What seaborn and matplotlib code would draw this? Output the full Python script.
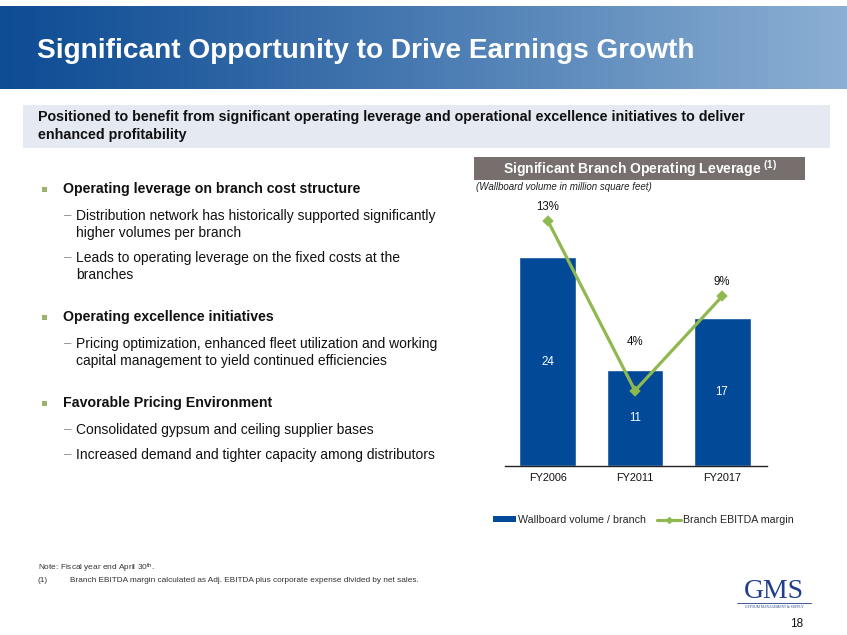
import numpy as np
import matplotlib
matplotlib.use("Agg")
import matplotlib.pyplot as plt
from matplotlib.patches import Rectangle, Patch
from matplotlib.lines import Line2D
import seaborn as sns

# ---- data ----
categories = ["FY2006", "FY2011", "FY2017"]
volume_per_branch = [24, 11, 17]
ebitda_margin = [13, 4, 9]
margin_labels = ["13%", "4%", "9%"]

sns.set_theme(style="white")
plt.rcParams["font.family"] = ["Liberation Sans", "DejaVu Sans"]
plt.rcParams["mathtext.default"] = "regular"

W, H = 847, 635
fig = plt.figure(figsize=(W / 100, H / 100), dpi=100)
fig.patch.set_facecolor("white")


def fx(x):
    return x / W


def fy(y):
    return 1 - y / H


BLUE = "#024A97"
GREEN = "#8FB94F"

# ---- header banner with gradient ----
ban = fig.add_axes([0, fy(89), 1, (89 - 6) / H])
ban.set_axis_off()
grad = np.linspace(0, 1, 256)
c0 = np.array([14, 76, 148]) / 255
c1 = np.array([140, 176, 212]) / 255
img = np.array([c0 + (c1 - c0) * t ** 1.1 for t in grad])[None, :, :]
ban.imshow(img, aspect="auto", extent=[0, 1, 0, 1])
ban.set_xlim(0, 1)
ban.set_ylim(0, 1)
fig.text(fx(37), fy(51), "Significant Opportunity to Drive Earnings Growth",
         color="white", fontsize=20.2, fontweight="bold", va="center", ha="left")

# ---- subtitle box ----
fig.patches.append(Rectangle((fx(23), fy(148)), fx(830) - fx(23), (148 - 105) / H,
                             transform=fig.transFigure, facecolor="#E4E9F2",
                             edgecolor="none", zorder=0))
fig.text(fx(38), fy(117),
         "Positioned to benefit from significant operating leverage and operational excellence initiatives to deliver",
         fontsize=10.25, fontweight="bold", color="#111111", va="center")
fig.text(fx(38), fy(135), "enhanced profitability",
         fontsize=10.25, fontweight="bold", color="#111111", va="center")

# ---- left bullets ----
bullets = [
    ("h", 189, "Operating leverage on branch cost structure"),
    ("s", 216, "Distribution network has historically supported significantly"),
    ("c", 233, "higher volumes per branch"),
    ("s", 258, "Leads to operating leverage on the fixed costs at the"),
    ("c", 275, "branches"),
    ("h", 317, "Operating excellence initiatives"),
    ("s", 344, "Pricing optimization, enhanced fleet utilization and working"),
    ("c", 361, "capital management to yield continued efficiencies"),
    ("h", 403, "Favorable Pricing Environment"),
    ("s", 430, "Consolidated gypsum and ceiling supplier bases"),
    ("s", 455, "Increased demand and tighter capacity among distributors"),
]
for kind, y, txt in bullets:
    if kind == "h":
        fig.patches.append(Rectangle((fx(42), fy(y + 3)), 5 / W, 5 / H,
                                     transform=fig.transFigure,
                                     facecolor="#9DB36B", edgecolor="none"))
        fig.text(fx(63), fy(y), txt, fontsize=10.15, fontweight="bold",
                 color="#111111", va="center")
    else:
        if kind == "s":
            fig.text(fx(64), fy(y), "\u2013", fontsize=9.5, color="#888888", va="center")
        fig.text(fx(76), fy(y), txt, fontsize=10.0, color="#111111", va="center")

# ---- chart header ----
fig.patches.append(Rectangle((fx(474), fy(180)), fx(805) - fx(474), (180 - 157) / H,
                             transform=fig.transFigure, facecolor="#766F6D",
                             edgecolor="none"))
fig.text(fx(640), fy(168.5), "Significant Branch Operating Leverage $^{(1)}$",
         color="white", fontsize=10, fontweight="bold", ha="center", va="center")
fig.text(fx(476), fy(187), "(Wallboard volume in million square feet)",
         fontsize=7, style="italic", color="#222222", va="center")

# ---- chart ----
ax = fig.add_axes([fx(505), fy(466), (767 - 505) / W, (466 - 200) / H])
sns.barplot(x=categories, y=volume_per_branch, color=BLUE, width=0.655,
            saturation=1, ax=ax, zorder=2)
ax.set_xlim(-0.494, 2.517)
ax.set_ylim(0, 30.6)
ax.bar_label(ax.containers[0], labels=[str(v) for v in volume_per_branch],
             label_type="center", color="white", fontsize=8.3)
for s in ["top", "right", "left"]:
    ax.spines[s].set_visible(False)
ax.spines["bottom"].set_color("#222222")
ax.spines["bottom"].set_linewidth(1.0)
ax.set_yticks([])
ax.tick_params(axis="x", length=0, pad=5, labelsize=7.8, colors="#111111")
ax.set_ylabel("")
ax.set_facecolor("none")

ax2 = ax.twinx()
sns.pointplot(x=categories, y=ebitda_margin, color=GREEN, markers="D",
              linestyles="-", ax=ax2, markersize=4.5, linewidth=2.3)
ax2.set_xlim(-0.494, 2.517)
ax2.set_ylim(0, 14.12)
ax2.set_yticks([])
ax2.set_ylabel("")
for s in ax2.spines.values():
    s.set_visible(False)

label_offsets = [14, 49, 14]
for i, (m, lab, off) in enumerate(zip(ebitda_margin, margin_labels, label_offsets)):
    ax2.annotate(lab, (i, m), xytext=(0, off * 0.72), textcoords="offset points",
                 ha="center", va="center", fontsize=8.3, color="#111111")

# ---- legend ----
handles = [Patch(facecolor=BLUE, edgecolor="none"),
           Line2D([0], [0], color=GREEN, lw=2.3, marker="D", markersize=3)]
fig.legend(handles, ["Wallboard volume / branch", "Branch EBITDA margin"],
           loc="center", bbox_to_anchor=(fx(643), fy(520)), ncol=2, frameon=False,
           fontsize=7.7, handlelength=2.2, handleheight=0.45, handletextpad=0.2,
           columnspacing=1.0)

# ---- footnotes ----
fig.text(fx(38), fy(568), "Note: Fiscal year end April 30$^{th}$.", fontsize=5.95,
         color="#333333", va="center")
fig.text(fx(37), fy(580), "(1)", fontsize=5.95, color="#333333", va="center")
fig.text(fx(70), fy(580),
         "Branch EBITDA margin calculated as Adj. EBITDA plus corporate expense divided by net sales.",
         fontsize=5.95, color="#333333", va="center")

# ---- logo & page number ----
fig.text(fx(774), fy(592), "GMS", fontsize=20, family="Liberation Serif",
         color="#1F3E8C", ha="center", va="center")
fig.lines.append(Line2D([fx(737), fx(811)], [fy(603), fy(603)],
                        transform=fig.transFigure, color="#1F3E8C", lw=0.6))
fig.text(fx(774), fy(607), "GYPSUM MANAGEMENT & SUPPLY", fontsize=2.6,
         family="Liberation Serif", color="#1F3E8C", ha="center", va="center")
fig.text(fx(797), fy(624), "18", fontsize=8.5, color="#111111", ha="center", va="center")

fig.savefig("out.png", dpi=100)
